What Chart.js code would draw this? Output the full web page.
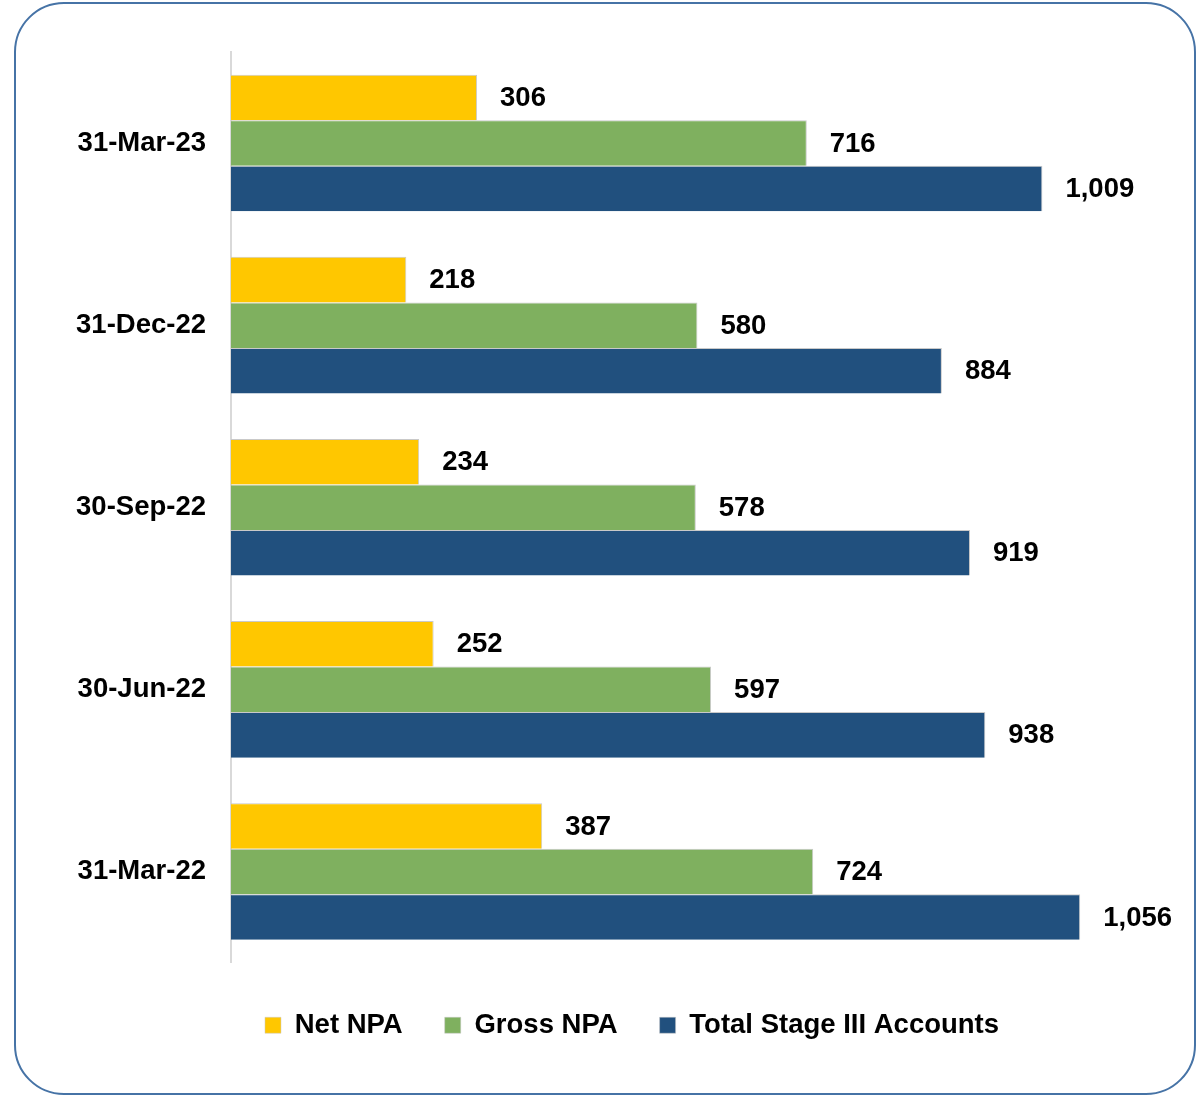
<!DOCTYPE html>
<html>
<head>
<meta charset="utf-8">
<script src="https://cdn.jsdelivr.net/npm/chart.js@4.4.0/dist/chart.umd.min.js"></script>
<style>
    body { margin: 0; background: #fff; }
    #khung {
        position: absolute; left: 14px; top: 2px; width: 1182px; height: 1093px;
        box-sizing: border-box; border: 2px solid #4673a6; border-radius: 50px;
    }
    #myChart { position: absolute; left: 0; top: 0; }
</style>
</head>
<body>
<div id="khung"></div>
<canvas id="myChart" width="1204" height="1095"></canvas>
<script>
var ngay = ["31-Mar-23", "31-Dec-22", "30-Sep-22", "30-Jun-22", "31-Mar-22"];
var netNPA = [306, 218, 234, 252, 387];
var grossNPA = [716, 580, 578, 597, 724];
var stageIII = [1009, 884, 919, 938, 1056];
var tenSeries = ["Net NPA", "Gross NPA", "Total Stage III Accounts"];
var mauSeries = ["#ffc700", "#7fb05f", "#21507e"];

var fontChu = '"Liberation Sans", Arial, sans-serif';

// ghi so lieu ben phai moi thanh
var nhanGiaTri = {
    id: 'nhanGiaTri',
    afterDatasetsDraw: function (chart) {
        var ctx = chart.ctx;
        ctx.save();
        ctx.font = 'bold 27.5px ' + fontChu;
        ctx.fillStyle = '#000';
        ctx.textAlign = 'left';
        ctx.textBaseline = 'middle';
        chart.data.datasets.forEach(function (ds, i) {
            chart.getDatasetMeta(i).data.forEach(function (bar, j) {
                ctx.fillText(ds.data[j].toLocaleString('en-US'), bar.x + 23, bar.y + 1);
            });
        });
        ctx.restore();
    }
};

function veBieuDo() {
    var dsData = [netNPA, grossNPA, stageIII];
    var datasets = [];
    for (var i = 0; i < dsData.length; i++) {
        datasets.push({
            label: tenSeries[i],
            data: dsData[i],
            backgroundColor: mauSeries[i],
            borderColor: '#c9c9c9',
            borderWidth: { top: 1, right: 1, bottom: 0, left: 0 },
            categoryPercentage: 0.75,
            barPercentage: 1
        });
    }
    new Chart("myChart", {
        type: "bar",
        data: {
            labels: ngay,
            datasets: datasets
        },
        plugins: [nhanGiaTri],
        options: {
            indexAxis: 'y',
            responsive: false,
            animation: false,
            devicePixelRatio: 1,
            layout: { padding: { left: 68, right: 8, top: 52, bottom: 46 } },
            scales: {
                x: {
                    min: 0,
                    max: 1200,
                    afterFit: function (scale) { scale.height = 7; },
                    grid: { display: false },
                    border: { display: false },
                    ticks: { display: false }
                },
                y: {
                    afterFit: function (scale) { scale.width = 163; },
                    grid: { display: true, drawOnChartArea: false, drawTicks: false, color: 'rgba(0,0,0,0)' },
                    border: { display: true, color: '#d9d9d9', width: 2 },
                    ticks: {
                        padding: 25,
                        color: '#000',
                        font: { family: fontChu, size: 27.5, weight: 'bold' }
                    }
                }
            },
            plugins: {
                tooltip: { enabled: false },
                legend: {
                    position: 'bottom',
                    labels: {
                        boxWidth: 16,
                        boxHeight: 16,
                        padding: 42,
                        color: '#000',
                        font: { family: fontChu, size: 27.5, weight: 'bold' }
                    }
                }
            }
        }
    });
}

veBieuDo();
</script>
</body>
</html>
